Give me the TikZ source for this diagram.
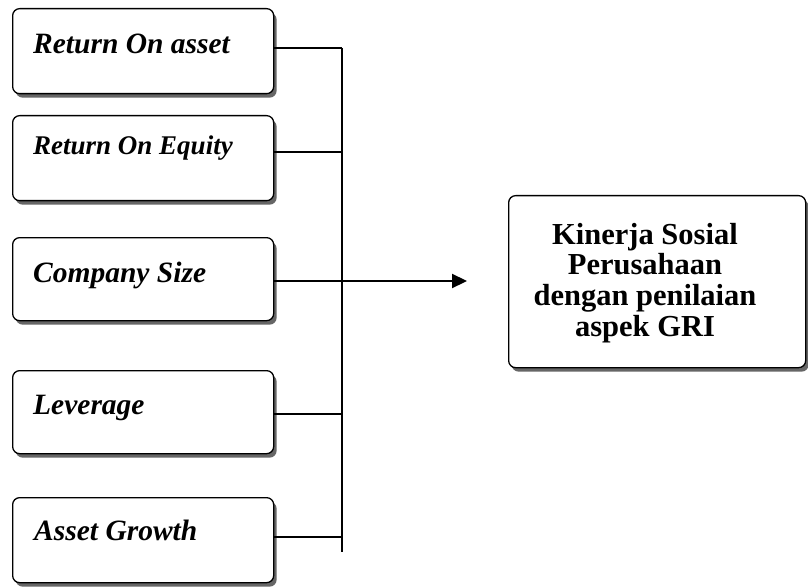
\documentclass[tikz,border=0pt]{standalone}
\usepackage{fontspec}
\setmainfont{Liberation Serif}
\usetikzlibrary{arrows.meta,shadows}
\begin{document}
\begin{tikzpicture}[x=1pt,y=-1pt,
  box/.style={draw=black, line width=1.3pt, rounded corners=7pt, fill=white,
    inner sep=0pt, anchor=north west,
    drop shadow={shadow xshift=3pt, shadow yshift=-4pt, fill=black!60, opacity=1}},
  lbox/.style={box, minimum width=261pt},
  ltext/.style={anchor=base west, inner sep=0pt,
    font=\fontsize{29.5}{33}\selectfont\bfseries\itshape},
  wire/.style={line width=2.2pt, draw=black},
]
\useasboundingbox (0,0) rectangle (808,588);

% left boxes
\node[lbox, minimum height=85pt] (b1) at (12,8) {};
\node[lbox, minimum height=85pt] (b2) at (12,115) {};
\node[lbox, minimum height=83pt] (b3) at (12,237) {};
\node[lbox, minimum height=83pt] (b4) at (12,370) {};
\node[lbox, minimum height=85pt] (b5) at (12,497) {};

\node[ltext] (t1) at (33,54) {Return On asset};
\node[ltext, font=\fontsize{27}{30}\selectfont\bfseries\itshape] (t2) at (33,155) {Return On Equity};
\node[ltext] (t3) at (33,282) {Company Size};
\node[ltext] (t4) at (33,414) {Leverage};
\node[ltext] (t5) at (34,540) {Asset Growth};

% right box
\node[box, minimum width=297pt, minimum height=172pt] (k) at (508,195) {};
\node[align=center, inner sep=0pt,
  font=\fontsize{30.5}{30.7}\selectfont\bfseries] (kt) at (645,283)
  {Kinerja Sosial\\Perusahaan\\dengan penilaian\\aspek GRI};

% bus
\coordinate (j1) at (342,48);
\coordinate (j2) at (342,152);
\coordinate (j3) at (342,281);
\coordinate (j4) at (342,414);
\coordinate (j5) at (342,537);
\coordinate (jb) at (342,552);
\coordinate (tip) at (467,281);

\draw[wire] (b1.east |- j1) -- (j1);
\draw[wire] (b2.east |- j2) -- (j2);
\draw[wire] (b3.east |- j3) -- (j3);
\draw[wire] (b4.east |- j4) -- (j4);
\draw[wire] (b5.east |- j5) -- (j5);
\draw[wire] (j1) -- (jb);
\draw[wire, -{Triangle[length=15pt,width=14pt]}] (j3) -- (tip);
\end{tikzpicture}
\end{document}
